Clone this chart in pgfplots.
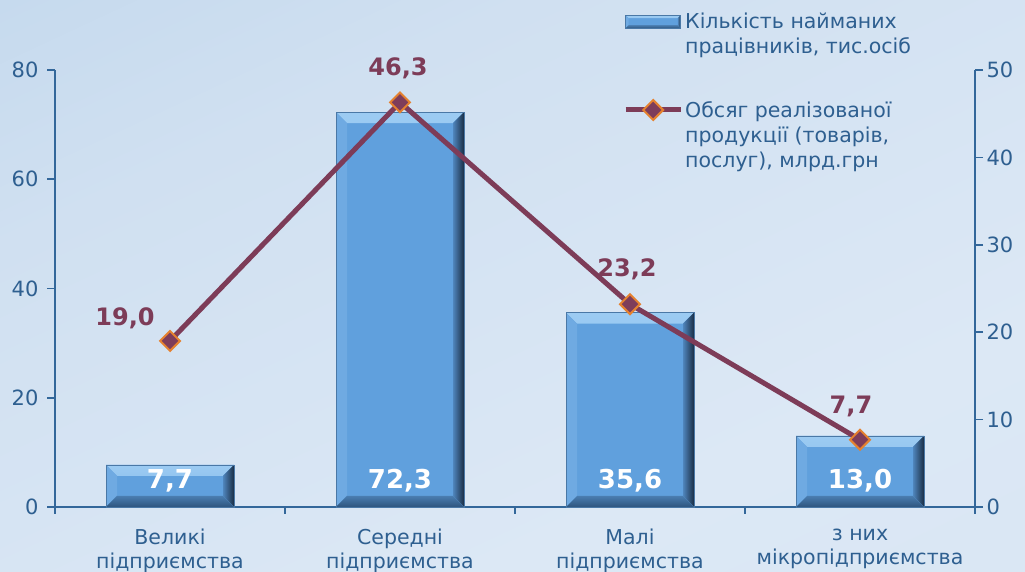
\documentclass[border=0pt]{standalone}
\usepackage{pgfplots}
\pgfplotsset{compat=1.18}
\usepackage{fontspec}
\setmainfont{DejaVu Sans}
\definecolor{axcol}{HTML}{33679A}
\definecolor{txtcol}{HTML}{2E5F90}
\definecolor{face}{HTML}{60A0DD}
\definecolor{topb}{HTML}{9CCBF2}
\definecolor{topb2}{HTML}{7DB6EA}
\definecolor{leftb}{HTML}{6FAAE2}
\definecolor{rightb}{HTML}{1A2E45}
\definecolor{rightb2}{HTML}{4F85BC}
\definecolor{botb}{HTML}{2E557E}
\definecolor{botb2}{HTML}{4A7DB0}
\definecolor{edge}{HTML}{4A78A6}
\definecolor{linecol}{HTML}{7D3C58}
\definecolor{mkedge}{HTML}{E5812F}
\definecolor{mkfill}{HTML}{7E3D5A}
\definecolor{bgA}{HTML}{D6E5F3}
\definecolor{bgB}{HTML}{DCE8F5}
\definecolor{bgC}{HTML}{D0E0F1}
\definecolor{bgD}{HTML}{C1D7EC}
\definecolor{bgE}{HTML}{CCDEF0}
\pgfdeclareverticalshading{bgsh}{100bp}{color(0bp)=(bgA); color(35bp)=(bgB); color(65bp)=(bgC); color(85bp)=(bgD); color(100bp)=(bgE)}
\tikzset{nopp/.style={path picture={}, draw=none},
bevel/.style={path picture={
  \fill[nopp, top color=topb, bottom color=topb2] (path picture bounding box.north west) -- (path picture bounding box.north east) -- ([shift={(-#1,-#1)}]path picture bounding box.north east) -- ([shift={(#1,-#1)}]path picture bounding box.north west) -- cycle;
  \fill[nopp, leftb] (path picture bounding box.north west) -- (path picture bounding box.south west) -- ([shift={(#1,#1)}]path picture bounding box.south west) -- ([shift={(#1,-#1)}]path picture bounding box.north west) -- cycle;
  \fill[nopp, left color=rightb2, right color=rightb] (path picture bounding box.north east) -- (path picture bounding box.south east) -- ([shift={(-#1,#1)}]path picture bounding box.south east) -- ([shift={(-#1,-#1)}]path picture bounding box.north east) -- cycle;
  \fill[nopp, top color=botb2, bottom color=botb] (path picture bounding box.south west) -- (path picture bounding box.south east) -- ([shift={(-#1,#1)}]path picture bounding box.south east) -- ([shift={(#1,#1)}]path picture bounding box.south west) -- cycle;
}},
lineleg/.style={linecol, line width=5pt, mark=square*, mark size=7pt, mark options={rotate=45, fill=mkfill, draw=mkedge, line width=2pt}, mark repeat=2, mark phase=2}}
\pgfplotsset{
  common/.style={
    at={(55pt,65pt)}, anchor=south west,
    scale only axis, width=920pt, height=437pt,
    xmin=-0.5, xmax=3.5, clip=false,
    tick align=outside,
    axis line style={draw=axcol, line width=1.6pt},
    tick style={draw=axcol, line width=1.6pt},
    major tick length=8pt, minor tick length=7pt,
    /pgf/number format/assume math mode=true,
    yticklabel style={font=\fontsize{21}{25}\selectfont, text=txtcol},
  },
  barst/.style={ybar, bar width=128pt, bar shift=0pt, fill=face, draw=edge, line width=0.8pt, bevel=11pt},
}
\begin{document}
\begin{tikzpicture}
\shade[shading=bgsh, shading angle=25] (-60pt,-60pt) rectangle (1085pt,632pt);
\begin{axis}[common,
  ymin=0, ymax=80,
  axis x line*=bottom, axis y line*=left,
  ytick={0,20,40,60,80},
  yticklabel style={xshift=-5pt},
  xtick={0,1,2,3},
  xticklabels={{Великі\\підприємства},{Середні\\підприємства},{Малі\\підприємства},{з них\\мікропідприємства}},
  xticklabel style={align=center, font=\fontsize{20.5}{24}\selectfont, text=txtcol, yshift=-10pt},
  minor xtick={-0.5,0.5,1.5,2.5,3.5},
  major x tick style={draw=none},
]
\addplot[barst] coordinates {(0,7.7)};
\addplot[barst, forget plot] coordinates {(1,72.3)};
\addplot[barst, forget plot] coordinates {(2,35.6)};
\addplot[barst, forget plot] coordinates {(3,13.0)};
\addplot[draw=none, mark=none, forget plot, nodes near coords, point meta=explicit symbolic,
  every node near coord/.append style={anchor=center, font=\fontsize{26}{30}\selectfont\bfseries, text=white}]
  table[x=x, y=y, meta=lab] {
x y lab
0 4.76 7,7
1 4.76 72,3
2 4.76 35,6
3 4.76 13,0
};
\end{axis}
\begin{axis}[common,
  ymin=0, ymax=50,
  axis x line=none, axis y line*=right,
  ytick={0,10,20,30,40,50},
  legend cell align=left,
  legend style={at={(axis description cs:0.6174,1.135)}, anchor=north west, draw=none, fill=none, inner sep=0pt, row sep=42pt,
    font=\fontsize{20.5}{25}\selectfont, text=txtcol,
    cells={anchor=west, align=left, inner sep=0pt},
    /tikz/every even column/.append style={column sep=4pt}},
]
\addlegendimage{legend image code/.code={\path[fill=face, draw=edge, line width=0.6pt, bevel=3pt] (0pt,6pt) rectangle (55pt,19pt);}}
\addlegendentry{Кількість найманих\\працівників, тис.осіб}
\addplot[linecol, line width=5pt, mark=square*, mark size=7pt,
  mark options={rotate=45, fill=mkfill, draw=mkedge, line width=2pt},
  nodes near coords, point meta=explicit symbolic,
  visualization depends on={value \thisrow{dx}\as\dx},
  visualization depends on={value \thisrow{dy}\as\dy},
  every node near coord/.append style={anchor=center, xshift=\dx pt, yshift=\dy pt, font=\fontsize{24}{28}\selectfont\bfseries, text=linecol},
  legend image code/.code={\draw[lineleg] plot coordinates {(0pt,25pt) (27.5pt,25pt) (55pt,25pt)};}]
  table[x=x, y=y, meta=lab] {
x y lab dx dy
0 19.0 19,0 -45 23
1 46.3 46,3 -2 34
2 23.2 23,2 -3 35
3 7.7 7,7 -9 33
};
\addlegendentry{Обсяг реалізованої\\продукції (товарів,\\послуг), млрд.грн}
\end{axis}
\pgfresetboundingbox
\path[use as bounding box] (0pt,0pt) rectangle (1025pt,572pt);
\end{tikzpicture}
\end{document}
